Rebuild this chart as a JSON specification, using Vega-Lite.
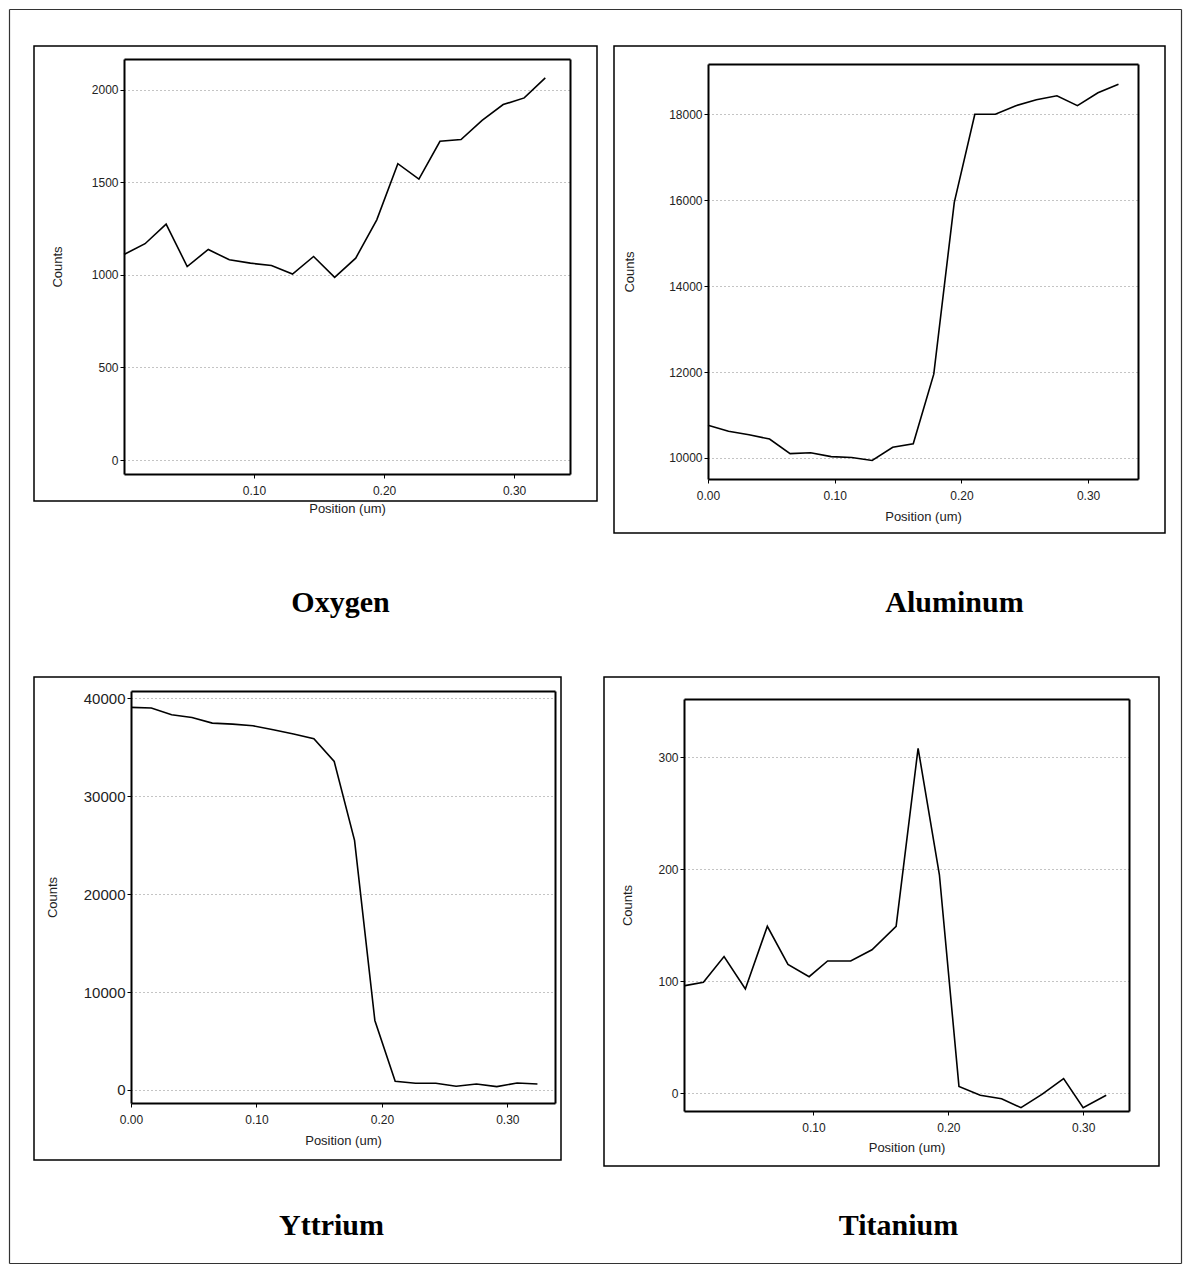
{
  "$schema": "https://vega.github.io/schema/vega-lite/v6.json",
  "background": "white",
  "padding": {"left": 8, "top": 8, "right": 0, "bottom": 0},
  "datasets": {
    "oxygen": [
      {"position": 0, "counts": 1110}, {"position": 0.0162, "counts": 1168}, {"position": 0.0324, "counts": 1274},
      {"position": 0.0486, "counts": 1045}, {"position": 0.0648, "counts": 1137}, {"position": 0.081, "counts": 1081},
      {"position": 0.0972, "counts": 1063}, {"position": 0.1134, "counts": 1050}, {"position": 0.1296, "counts": 1004},
      {"position": 0.1458, "counts": 1099}, {"position": 0.162, "counts": 986}, {"position": 0.1782, "counts": 1090},
      {"position": 0.1944, "counts": 1297}, {"position": 0.2106, "counts": 1600}, {"position": 0.2268, "counts": 1517},
      {"position": 0.243, "counts": 1721}, {"position": 0.2592, "counts": 1730}, {"position": 0.2754, "counts": 1834},
      {"position": 0.2916, "counts": 1919}, {"position": 0.3078, "counts": 1955}, {"position": 0.324, "counts": 2063}
    ],
    "aluminum": [
      {"position": 0, "counts": 10760}, {"position": 0.0162, "counts": 10620}, {"position": 0.0324, "counts": 10540},
      {"position": 0.0486, "counts": 10440}, {"position": 0.0648, "counts": 10100}, {"position": 0.081, "counts": 10120},
      {"position": 0.0972, "counts": 10030}, {"position": 0.1134, "counts": 10010}, {"position": 0.1296, "counts": 9940},
      {"position": 0.1458, "counts": 10250}, {"position": 0.162, "counts": 10330}, {"position": 0.1782, "counts": 11950},
      {"position": 0.1944, "counts": 15950}, {"position": 0.2106, "counts": 18000}, {"position": 0.2268, "counts": 18000},
      {"position": 0.243, "counts": 18200}, {"position": 0.2592, "counts": 18340}, {"position": 0.2754, "counts": 18430},
      {"position": 0.2916, "counts": 18200}, {"position": 0.3078, "counts": 18500}, {"position": 0.324, "counts": 18700}
    ],
    "yttrium": [
      {"position": 0, "counts": 39080}, {"position": 0.0162, "counts": 39010}, {"position": 0.0324, "counts": 38330},
      {"position": 0.0486, "counts": 38050}, {"position": 0.0648, "counts": 37470}, {"position": 0.081, "counts": 37370},
      {"position": 0.0972, "counts": 37200}, {"position": 0.1134, "counts": 36790}, {"position": 0.1296, "counts": 36350},
      {"position": 0.1458, "counts": 35870}, {"position": 0.162, "counts": 33550}, {"position": 0.1782, "counts": 25500},
      {"position": 0.1944, "counts": 7100}, {"position": 0.2106, "counts": 890}, {"position": 0.2268, "counts": 680},
      {"position": 0.243, "counts": 680}, {"position": 0.2592, "counts": 375}, {"position": 0.2754, "counts": 615},
      {"position": 0.2916, "counts": 340}, {"position": 0.3078, "counts": 720}, {"position": 0.324, "counts": 615}
    ],
    "titanium": [
      {"position": 0.0047, "counts": 96}, {"position": 0.0184, "counts": 99}, {"position": 0.0337, "counts": 122},
      {"position": 0.0495, "counts": 93}, {"position": 0.0658, "counts": 149}, {"position": 0.0811, "counts": 115},
      {"position": 0.0968, "counts": 104}, {"position": 0.1105, "counts": 118}, {"position": 0.1276, "counts": 118},
      {"position": 0.1434, "counts": 128}, {"position": 0.1613, "counts": 149}, {"position": 0.1776, "counts": 308},
      {"position": 0.1934, "counts": 195}, {"position": 0.2079, "counts": 6}, {"position": 0.2237, "counts": -2},
      {"position": 0.2395, "counts": -5}, {"position": 0.2539, "counts": -13}, {"position": 0.2697, "counts": -1},
      {"position": 0.2855, "counts": 13}, {"position": 0.3, "counts": -13}, {"position": 0.3171, "counts": -2}
    ]
  },
  "vconcat": [
    {
      "hconcat": [
        {
          "width": 563, "height": 455,
          "data": {"name": "oxygen"},
          "layer": [
            {
              "mark": {"type": "line", "color": "black", "strokeWidth": 1.6},
              "encoding": {
                "x": {"field": "position", "type": "quantitative",
                  "scale": {"domain": [0, 0.343], "range": [90, 536], "nice": false, "zero": false},
                  "axis": {"orient": "bottom", "offset": -27, "values": [0.1, 0.2, 0.3], "format": ".2f", "title": "Position (um)", "grid": false}},
                "y": {"field": "counts", "type": "quantitative",
                  "scale": {"domain": [-75, 2165], "range": [428, 13], "nice": false, "zero": false},
                  "axis": {"orient": "left", "offset": -90, "values": [0, 500, 1000, 1500, 2000], "format": "d", "title": "Counts", "titlePadding": 27, "grid": true}}
              }
            },
            {
              "mark": {"type": "line", "strokeOpacity": 0},
              "encoding": {
                "x": {"field": "position", "type": "quantitative",
                  "scale": {"domain": [0, 0.343], "range": [90, 536], "nice": false, "zero": false},
                  "axis": {"orient": "top", "offset": -13, "labels": false, "ticks": false, "title": null, "grid": false}},
                "y": {"field": "counts", "type": "quantitative",
                  "scale": {"domain": [-75, 2165], "range": [428, 13], "nice": false, "zero": false},
                  "axis": {"orient": "right", "offset": -27, "labels": false, "ticks": false, "title": null, "grid": false}}
              }
            },
            {
              "mark": {"type": "line", "strokeOpacity": 0},
              "encoding": {
                "x": {"field": "position", "type": "quantitative",
                  "scale": {"domain": [0, 0.343], "range": [206, 406], "nice": false, "zero": false},
                  "axis": {"orient": "bottom", "offset": 110, "domain": false, "labels": false, "ticks": false, "grid": false,
                    "title": "Oxygen", "titleFont": "Liberation Serif", "titleFontSize": 30, "titleFontWeight": "bold", "titleColor": "black",
                    "titlePadding": 0, "titleBaseline": "alphabetic"}},
                "y": {"field": "counts", "type": "quantitative", "axis": null}
              }
            },
            {
              "mark": {"type": "line", "strokeOpacity": 0},
              "encoding": {
                "x": {"field": "position", "type": "quantitative",
                  "scale": {"domain": [0, 0.343], "range": [-25, 1147], "nice": false, "zero": false},
                  "axis": {"orient": "top", "offset": 37, "labels": false, "ticks": false, "title": null, "grid": false, "domainColor": "#333", "domainWidth": 1.2}},
                "y": {"field": "counts", "type": "quantitative",
                  "scale": {"domain": [-75, 2165], "range": [1217, -37], "nice": false, "zero": false},
                  "axis": {"orient": "left", "offset": 25, "labels": false, "ticks": false, "title": null, "grid": false, "domainColor": "#333", "domainWidth": 1.2}}
              }
            },
            {
              "mark": {"type": "line", "strokeOpacity": 0},
              "encoding": {
                "x": {"field": "position", "type": "quantitative",
                  "scale": {"domain": [0, 0.343], "range": [-25, 1147], "nice": false, "zero": false},
                  "axis": {"orient": "bottom", "offset": 762, "labels": false, "ticks": false, "title": null, "grid": false, "domainColor": "#333", "domainWidth": 1.2}},
                "y": {"field": "counts", "type": "quantitative",
                  "scale": {"domain": [-75, 2165], "range": [1217, -37], "nice": false, "zero": false},
                  "axis": {"orient": "right", "offset": 584, "labels": false, "ticks": false, "title": null, "grid": false, "domainColor": "#333", "domainWidth": 1.2}}
              }
            }
          ],
          "resolve": {"scale": {"x": "independent", "y": "independent"}, "axis": {"x": "independent", "y": "independent"}}
        },
        {
          "width": 551, "height": 487,
          "data": {"name": "aluminum"},
          "layer": [
            {
              "mark": {"type": "line", "color": "black", "strokeWidth": 1.6},
              "encoding": {
                "x": {"field": "position", "type": "quantitative",
                  "scale": {"domain": [0, 0.3394], "range": [94, 524], "nice": false, "zero": false},
                  "axis": {"orient": "bottom", "offset": -54, "values": [0, 0.1, 0.2, 0.3], "format": ".2f", "title": "Position (um)", "titlePadding": 9, "grid": false}},
                "y": {"field": "counts", "type": "quantitative",
                  "scale": {"domain": [9510, 19170], "range": [433, 18], "nice": false, "zero": false},
                  "axis": {"orient": "left", "offset": -94, "values": [10000, 12000, 14000, 16000, 18000], "format": "d", "title": "Counts", "titlePadding": 32, "grid": true}}
              }
            },
            {
              "mark": {"type": "line", "strokeOpacity": 0},
              "encoding": {
                "x": {"field": "position", "type": "quantitative",
                  "scale": {"domain": [0, 0.3394], "range": [94, 524], "nice": false, "zero": false},
                  "axis": {"orient": "top", "offset": -18, "labels": false, "ticks": false, "title": null, "grid": false}},
                "y": {"field": "counts", "type": "quantitative",
                  "scale": {"domain": [9510, 19170], "range": [433, 18], "nice": false, "zero": false},
                  "axis": {"orient": "right", "offset": -27, "labels": false, "ticks": false, "title": null, "grid": false}}
              }
            },
            {
              "mark": {"type": "line", "strokeOpacity": 0},
              "encoding": {
                "x": {"field": "position", "type": "quantitative",
                  "scale": {"domain": [0, 0.3394], "range": [240, 440], "nice": false, "zero": false},
                  "axis": {"orient": "bottom", "offset": 78, "domain": false, "labels": false, "ticks": false, "grid": false,
                    "title": "Aluminum", "titleFont": "Liberation Serif", "titleFontSize": 30, "titleFontWeight": "bold", "titleColor": "black",
                    "titlePadding": 0, "titleBaseline": "alphabetic"}},
                "y": {"field": "counts", "type": "quantitative", "axis": null}
              }
            }
          ],
          "resolve": {"scale": {"x": "independent", "y": "independent"}, "axis": {"x": "independent", "y": "independent"}}
        }
      ],
      "spacing": 17,
      "bounds": "flush"
    },
    {
      "hconcat": [
        {
          "width": 527, "height": 483,
          "data": {"name": "yttrium"},
          "layer": [
            {
              "mark": {"type": "line", "color": "black", "strokeWidth": 1.6},
              "encoding": {
                "x": {"field": "position", "type": "quantitative",
                  "scale": {"domain": [0, 0.338], "range": [97, 521], "nice": false, "zero": false},
                  "axis": {"orient": "bottom", "offset": -57, "values": [0, 0.1, 0.2, 0.3], "format": ".2f", "title": "Position (um)", "titlePadding": 9, "grid": false}},
                "y": {"field": "counts", "type": "quantitative",
                  "scale": {"domain": [-1330, 40750], "range": [426, 14], "nice": false, "zero": false},
                  "axis": {"orient": "left", "offset": -97, "values": [0, 10000, 20000, 30000, 40000], "format": "d", "title": "Counts", "titlePadding": 24, "labelFontSize": 15, "grid": true}}
              }
            },
            {
              "mark": {"type": "line", "strokeOpacity": 0},
              "encoding": {
                "x": {"field": "position", "type": "quantitative",
                  "scale": {"domain": [0, 0.338], "range": [97, 521], "nice": false, "zero": false},
                  "axis": {"orient": "top", "offset": -14, "labels": false, "ticks": false, "title": null, "grid": false}},
                "y": {"field": "counts", "type": "quantitative",
                  "scale": {"domain": [-1330, 40750], "range": [426, 14], "nice": false, "zero": false},
                  "axis": {"orient": "right", "offset": -6, "labels": false, "ticks": false, "title": null, "grid": false}}
              }
            },
            {
              "mark": {"type": "line", "strokeOpacity": 0},
              "encoding": {
                "x": {"field": "position", "type": "quantitative",
                  "scale": {"domain": [0, 0.338], "range": [197, 397], "nice": false, "zero": false},
                  "axis": {"orient": "bottom", "offset": 74, "domain": false, "labels": false, "ticks": false, "grid": false,
                    "title": "Yttrium", "titleFont": "Liberation Serif", "titleFontSize": 30, "titleFontWeight": "bold", "titleColor": "black",
                    "titlePadding": 0, "titleBaseline": "alphabetic"}},
                "y": {"field": "counts", "type": "quantitative", "axis": null}
              }
            }
          ],
          "resolve": {"scale": {"x": "independent", "y": "independent"}, "axis": {"x": "independent", "y": "independent"}}
        },
        {
          "width": 555, "height": 489,
          "data": {"name": "titanium"},
          "layer": [
            {
              "mark": {"type": "line", "color": "black", "strokeWidth": 1.6},
              "encoding": {
                "x": {"field": "position", "type": "quantitative",
                  "scale": {"domain": [0.004, 0.334], "range": [80, 525], "nice": false, "zero": false},
                  "axis": {"orient": "bottom", "offset": -55, "values": [0.1, 0.2, 0.3], "format": ".2f", "title": "Position (um)", "titlePadding": 8, "grid": false}},
                "y": {"field": "counts", "type": "quantitative",
                  "scale": {"domain": [-16, 352], "range": [434, 22], "nice": false, "zero": false},
                  "axis": {"orient": "left", "offset": -80, "values": [0, 100, 200, 300], "format": "d", "title": "Counts", "titlePadding": 23, "grid": true}}
              }
            },
            {
              "mark": {"type": "line", "strokeOpacity": 0},
              "encoding": {
                "x": {"field": "position", "type": "quantitative",
                  "scale": {"domain": [0.004, 0.334], "range": [80, 525], "nice": false, "zero": false},
                  "axis": {"orient": "top", "offset": -22, "labels": false, "ticks": false, "title": null, "grid": false}},
                "y": {"field": "counts", "type": "quantitative",
                  "scale": {"domain": [-16, 352], "range": [434, 22], "nice": false, "zero": false},
                  "axis": {"orient": "right", "offset": -30, "labels": false, "ticks": false, "title": null, "grid": false}}
              }
            },
            {
              "mark": {"type": "line", "strokeOpacity": 0},
              "encoding": {
                "x": {"field": "position", "type": "quantitative",
                  "scale": {"domain": [0.004, 0.334], "range": [194, 394], "nice": false, "zero": false},
                  "axis": {"orient": "bottom", "offset": 68, "domain": false, "labels": false, "ticks": false, "grid": false,
                    "title": "Titanium", "titleFont": "Liberation Serif", "titleFontSize": 30, "titleFontWeight": "bold", "titleColor": "black",
                    "titlePadding": 0, "titleBaseline": "alphabetic"}},
                "y": {"field": "counts", "type": "quantitative", "axis": null}
              }
            }
          ],
          "resolve": {"scale": {"x": "independent", "y": "independent"}, "axis": {"x": "independent", "y": "independent"}}
        }
      ],
      "spacing": 43,
      "bounds": "flush"
    }
  ],
  "spacing": 631,
  "bounds": "flush",
  "config": {
    "view": {"stroke": "black", "strokeWidth": 1.5},
    "axis": {
      "labelFont": "Liberation Sans", "labelFontSize": 12, "labelColor": "#222", "labelFlush": false,
      "titleFont": "Liberation Sans", "titleFontSize": 13, "titleFontWeight": "normal", "titleColor": "#222", "titlePadding": 6,
      "domainColor": "black", "domainWidth": 2, "tickColor": "black", "tickSize": 4,
      "gridColor": "#888", "gridDash": [1, 3], "gridWidth": 1
    },
    "axisX": {"labelPadding": 7},
    "axisY": {"labelPadding": 2}
  }
}
